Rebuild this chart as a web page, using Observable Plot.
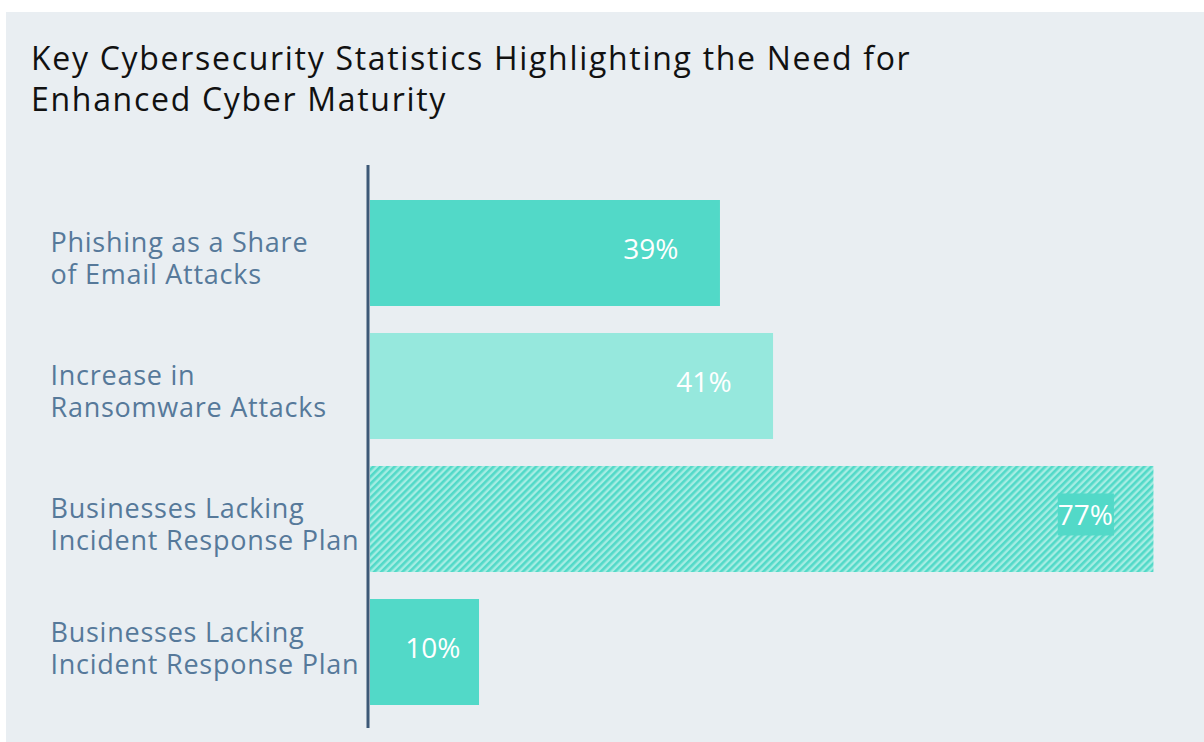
<!DOCTYPE html>
<html>
<head>
<meta charset="utf-8">
<script src="https://cdn.jsdelivr.net/npm/d3@7"></script>
<script src="https://cdn.jsdelivr.net/npm/@observablehq/plot@0.6"></script>
<style>
  html, body { margin: 0; padding: 0; background: #ffffff; }
  #panel { position: absolute; left: 6px; top: 12px; width: 1198px; height: 730px; background: #e9eef2; overflow: hidden; }
  #title { position: absolute; left: 25px; top: 25px; font-family: "Open Sans", sans-serif; font-size: 32px; letter-spacing: 1.7px; line-height: 41px; color: #111111; white-space: nowrap; }
  #chart { position: absolute; left: 0; top: 0; }
  g.lab text { letter-spacing: 0.75px; }
</style>
</head>
<body>
<div id="panel">
  <div id="title">Key Cybersecurity Statistics Highlighting the Need for<br>Enhanced Cyber Maturity</div>
  <div id="chart"></div>
</div>
<script>
// ---- data ----
const categories = [
  "Phishing as a Share\nof Email Attacks",
  "Increase in\nRansomware Attacks",
  "Businesses Lacking\nIncident Response Plan",
  "Businesses Lacking\nIncident Response Plan"
];
const barValues = [34.45, 39.66, 77, 10.8];
const valueLabels = ["39%", "41%", "77%", "10%"];

const data = categories.map((cat, i) => ({ i, cat, value: barValues[i], label: valueLabels[i] }));

const TEAL = "#52d9c8";
const LIGHT = "#96e8dd";
const LABEL = "#56799a";
const AXIS = "#3d5877";

const defs = () => {
  const d = d3.create("svg:defs");
  const p = d.append("pattern")
    .attr("id", "hatch")
    .attr("patternUnits", "userSpaceOnUse")
    .attr("width", 5).attr("height", 5)
    .attr("patternTransform", "rotate(-45)");
  p.append("rect").attr("width", 5).attr("height", 5).attr("fill", "#a6ede3");
  p.append("rect").attr("width", 5).attr("height", 2.6).attr("fill", TEAL);
  return d.node();
};

const chart = Plot.plot({
  width: 1198,
  height: 730,
  marginLeft: 363,
  marginRight: 20,
  marginTop: 153,
  marginBottom: 14,
  style: { background: "transparent", fontFamily: "'Open Sans', sans-serif" },
  x: { domain: [0, 80], axis: null },
  y: { domain: d3.range(categories.length), paddingInner: 0.2, paddingOuter: 0.2165, align: 0.6, axis: null },
  marks: [
    defs,
    Plot.barX(data, { filter: d => d.i === 0 || d.i === 3, x: "value", y: "i", fill: TEAL, insetLeft: 1 }),
    Plot.barX(data, { filter: d => d.i === 1, x: "value", y: "i", fill: LIGHT, insetLeft: 1 }),
    Plot.barX(data, { filter: d => d.i === 2, x: "value", y: "i", fill: "url(#hatch)", insetLeft: 1 }),
    Plot.ruleX([0], { stroke: AXIS, strokeWidth: 3, dx: -1.5 }),
    Plot.text(data, { filter: d => d.i < 2, x: "value", y: "i", text: "label", textAnchor: "end", dx: -42, dy: -3, fill: "#ffffff", fontSize: 28 }),
    Plot.text(data, { filter: d => d.i === 2, x: "value", y: "i", text: "label", textAnchor: "end", dx: -41, dy: -3, fill: "#ffffff", fontSize: 28, className: "hl" }),
    Plot.text(data, { filter: d => d.i === 3, x: "value", y: "i", text: "label", textAnchor: "end", dx: -19, dy: -3, fill: "#ffffff", fontSize: 28 }),
    Plot.text(data, { filter: d => d.i < 3, y: "i", text: "cat", frameAnchor: "left", textAnchor: "start", dx: -319, dy: 4, lineHeight: 1.19, fontSize: 27, fill: LABEL, className: "lab" }),
    Plot.text(data, { filter: d => d.i === 3, y: "i", text: "cat", frameAnchor: "left", textAnchor: "start", dx: -319, dy: -5, lineHeight: 1.19, fontSize: 27, fill: LABEL, className: "lab" })
  ]
});

document.getElementById("chart").appendChild(chart);

// solid box behind the highlighted value label
chart.querySelectorAll("g.hl text").forEach(t => {
  const b = t.getBBox();
  const r = document.createElementNS("http://www.w3.org/2000/svg", "rect");
  r.setAttribute("x", b.x);
  r.setAttribute("y", b.y + b.height / 2 - 21);
  r.setAttribute("width", b.width + 1);
  r.setAttribute("height", 42);
  r.setAttribute("fill", TEAL);
  const tr = t.getAttribute("transform");
  if (tr) r.setAttribute("transform", tr);
  t.parentNode.insertBefore(r, t);
});
</script>
</body>
</html>
